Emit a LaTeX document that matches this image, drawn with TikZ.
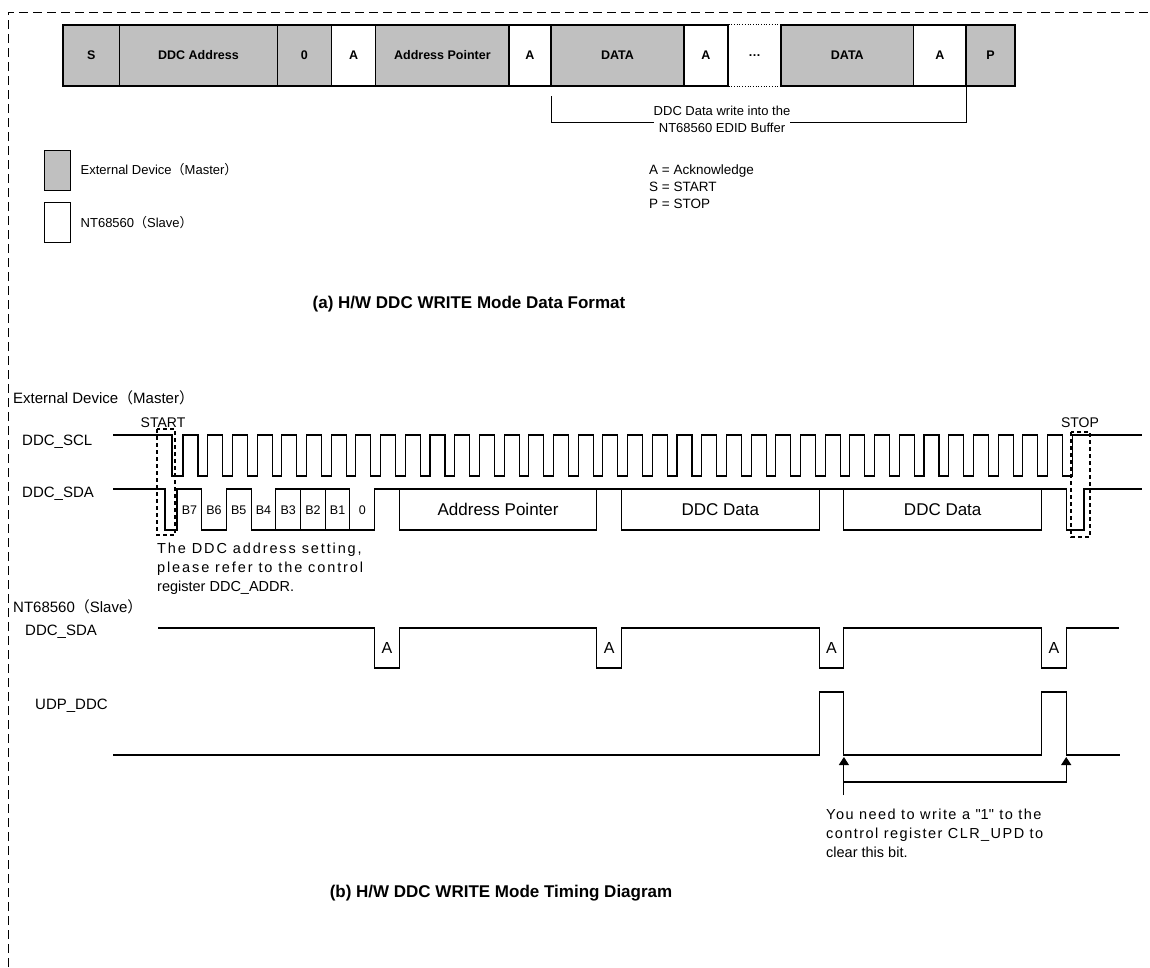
\documentclass[tikz,border=0pt]{standalone}
\usepackage{fontspec}
\setmainfont{Liberation Sans}
\newfontfamily\cjk{Noto Sans CJK SC}
\usetikzlibrary{positioning}
\usetikzlibrary{arrows.meta}
\definecolor{pktgray}{RGB}{192,192,192}
\newcommand{\txtsize}[2]{\fontsize{#1}{#2}\selectfont}
\newcommand{\lpar}{{\cjk （}}
\newcommand{\rpar}{{\cjk ）}}
\newcommand{\spaced}[1]{\addfontfeatures{LetterSpace=#1}}
\newcommand{\pktcell}[5]{\node[pktcell,fill=#4,minimum width={(#2-#1)*1pt}] (#5) at ({(#1+#2)/2},55.5) {#3};}
\newcommand{\bitlab}[3]{\node[bitlab] (#3) at ( #1 ,510) {#2};}
\newcommand{\bytebox}[4]{\node[bytebox,minimum width={(#2-#1)*1pt}] (#4) at ({(#1+#2)/2},509.5) {#3};}

\tikzset{
  pktcell/.style={draw,line width=1.2pt,inner sep=0pt,minimum height=61pt,font=\bfseries\txtsize{12.5}{14}},
  keybox/.style={draw,line width=1pt,inner sep=0pt,minimum width=26pt,minimum height=40pt},
  note/.style={inner sep=0pt,font=\txtsize{13}{17}},
  caption/.style={inner sep=0pt,font=\bfseries\txtsize{17}{20}},
  signame/.style={anchor=west,inner sep=0pt,font=\txtsize{15}{18}},
  wave/.style={line width=1.1pt},
  bitlab/.style={inner sep=0pt,font=\txtsize{12.5}{14}},
  bytebox/.style={draw,line width=1.1pt,inner sep=0pt,minimum height=41pt,font=\txtsize{17}{20}},
  window/.style={line width=1.6pt,dash pattern=on 4pt off 3pt},
  acklab/.style={inner sep=0pt,font=\txtsize{16}{18}},
  border/.style={line width=1pt,dash pattern=on 9pt off 5pt}
}

\begin{document}
\begin{tikzpicture}[x=1pt,y=-1pt]
\fill[white] (0,0) rectangle (1150,967);
\useasboundingbox (0,0) rectangle (1150,967);
\draw[border] (8,967) -- (8,12) -- (1150,12);
% packet row
\pktcell{63}{119.4}{S}{pktgray}{start}
\pktcell{119.4}{277.5}{DDC Address}{pktgray}{addr}
\pktcell{277.5}{331.4}{0}{pktgray}{wbit}
\pktcell{331.4}{375.8}{A}{white}{ack1}
\pktcell{375.8}{509}{Address Pointer}{pktgray}{ptr}
\pktcell{509}{551}{A}{white}{ack2}
\pktcell{551}{684}{DATA}{pktgray}{data1}
\pktcell{684}{728}{A}{white}{ack3}
\node[pktcell,draw=none,minimum width=53pt] (more) at (754.5,55.5) {…};
\pktcell{781}{913.6}{DATA}{pktgray}{data2}
\pktcell{913.6}{966}{A}{white}{ack4}
\pktcell{966}{1015}{P}{pktgray}{stop}
\draw[dotted,line width=0.7pt] (ack3.north east) -- (data2.north west) (ack3.south east) -- (data2.south west);
% buffer bracket
\node[note,align=center] (bufnote) at (722,119) {DDC Data write into the\\NT68560 EDID Buffer};
\coordinate (brL) at (551,96);
\draw[line width=1pt] (brL) |- (bufnote.west |- 0,122);
\draw[line width=1pt] (bufnote.east |- 0,122) -| (ack4.south east);
% legend
\node[keybox,fill=pktgray] (mastkey) at (57,170) {};
\node[keybox,fill=white] (slavekey) at (57,222.5) {};
\node[note,anchor=west,right=10pt of mastkey] (mastlab) {External Device\lpar Master\rpar};
\node[note,anchor=west,right=10pt of slavekey] (slavelab) {NT68560\lpar Slave\rpar};
\node[note,anchor=north west,align=left,font=\txtsize{13.5}{17}] (abbr) at (649,165) {A = Acknowledge\\S = START\\P = STOP};
\node[caption] (capa) at (469,304) {(a) H/W DDC WRITE Mode Data Format};
% master signals
\node[signame] (mast) at (13,398) {External Device\lpar Master\rpar};
\node[signame] (scl) at (22,442) {DDC\_SCL};
\node[signame] (sda) at (22,494) {DDC\_SDA};
\node[inner sep=0pt,font=\txtsize{14}{16}] (startlab) at (163,423) {START};
\node[inner sep=0pt,font=\txtsize{14}{16}] (stoplab) at (1080,423) {STOP};
\draw[wave] (113,435) -- (172,435) -- (172,476) -- (183,476)
  \foreach \k in {0,...,35} { -- ++(0,-41) -- ++(15,0) -- ++(0,41) -- ++(9.7,0) }
  -- ++(0,-41) -- (1142,435);
\draw[wave] (113,489) -- (165,489) -- (165,530) -- (177,530) -- (177,489) -- (201.7,489)
  -- (201.7,530) -- (226.4,530) -- (226.4,489) -- (251.1,489) -- (251.1,530) -- (374.6,530)
  -- (374.6,489) -- (1066.2,489) -- (1066.2,530) -- (1084,530) -- (1084,489) -- (1142,489);
\draw[wave] (275.8,530) -- (275.8,489) -- (349.9,489) -- (349.9,530)
  (300.5,489) -- (300.5,530) (325.2,489) -- (325.2,530);
\bitlab{189.4}{B7}{b7}
\bitlab{214}{B6}{b6}
\bitlab{238.8}{B5}{b5}
\bitlab{263.5}{B4}{b4}
\bitlab{288.2}{B3}{b3}
\bitlab{312.9}{B2}{b2}
\bitlab{337.6}{B1}{b1}
\bitlab{362.3}{0}{b0}
\bytebox{399.3}{596.9}{Address Pointer}{ptrbox}
\bytebox{621.6}{819.2}{DDC Data}{databox1}
\bytebox{843.9}{1041.5}{DDC Data}{databox2}
\draw[window] (157,429) rectangle (175,535);
\draw[window] (1071,432) rectangle (1090,537);
\node[anchor=north west,align=left,inner sep=0pt,font=\txtsize{14.5}{19}] (addrnote) at (157,543)
  {{\spaced{13}The DDC address setting,}\\{\spaced{13}please refer to the control}\\register DDC\_ADDR.};
% slave signals
\node[signame] (slave) at (13,607) {NT68560\lpar Slave\rpar};
\node[signame] (ssda) at (25,632) {DDC\_SDA};
\node[signame] (upd) at (35,706) {UDP\_DDC};
\draw[wave] (158,628) \foreach \s in {374.6,596.9,819.2,1041.5}
  { -- (\s,628) -- (\s,668) -- ({\s+24.7},668) -- ({\s+24.7},628) } -- (1119,628);
\foreach \s/\n in {374.6/1,596.9/2,819.2/3,1041.5/4}
  \node[acklab] (sack\n) at ({\s+12.35},648) {A};
\draw[wave] (113,755) \foreach \s in {819.2,1041.5}
  { -- (\s,755) -- (\s,692) -- ({\s+24.7},692) -- ({\s+24.7},755) } -- (1120,755);
% clear note
\coordinate (clr1) at (843.9,757);
\coordinate (clr2) at (1066.2,757);
\coordinate (clrfoot) at (843.9,795);
\coordinate (clrbar) at (843.9,782);
\draw[line width=1.1pt,-{Triangle[width=10pt,length=8pt]}] (clrfoot) -- (clr1);
\draw[line width=1.1pt,-{Triangle[width=10pt,length=8pt]}] (clrbar) -| (clr2);
\node[anchor=north west,align=left,inner sep=0pt,font=\txtsize{14.5}{19}] (clrnote) at (826,809)
  {{\spaced{10}You need to write a \textquotedbl 1\textquotedbl{} to the}\\{\spaced{10}control register CLR\_UPD to}\\clear this bit.};
\node[caption] (capb) at (501,893) {(b) H/W DDC WRITE Mode Timing Diagram};
\end{tikzpicture}
\end{document}
